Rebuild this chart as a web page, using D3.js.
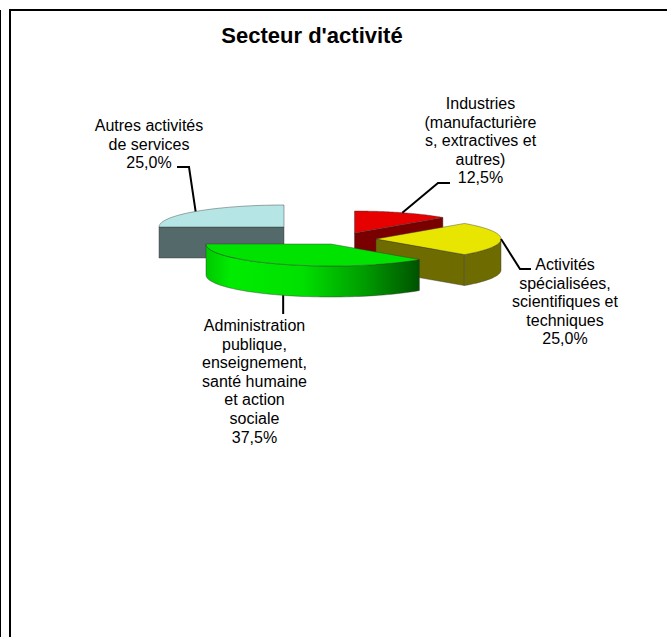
<!DOCTYPE html>
<html>
<head>
<meta charset="utf-8">
<style>
  html, body { margin: 0; padding: 0; background: #fff; }
  svg { display: block; }
  text { font-family: "Liberation Sans", Arial, sans-serif; fill: #000; }
</style>
</head>
<body>
<div class="chart"></div>
<script src="https://cdnjs.cloudflare.com/ajax/libs/d3/7.8.5/d3.min.js"></script>
<script>
// Data
var categories = ["Industries", "Activites", "Administration", "Autres"];
var values = [12.5, 25, 37.5, 25];
var labelLines = [
  ["Industries", "(manufacturière", "s, extractives et", "autres)"],
  ["Activités", "spécialisées,", "scientifiques et", "techniques"],
  ["Administration", "publique,", "enseignement,", "santé humaine", "et action", "sociale"],
  ["Autres activités", "de services"]
];

var svgWidth = 667;
var svgHeight = 637;
var title = "Secteur d'activité";
var formatValue = function(v) { return v.toFixed(1).replace(".", ",") + "%"; };

// Pie geometry
var rx = 125;
var ry = 22;
var depth = 31;

// Look of each slice, same order as the data. cut = which flat face shows
var slices = [
  { cx: 354.5, cy: 233, top: "#e60000", side: "#7a0000", cut: "endAngle" },
  { cx: 376, cy: 239, top: "#e8e600", side: "#6e6c00", cut: "endAngle" },
  { cx: 331, cy: 244, top: "#00e300", side: "url(#greenWall)", cut: null },
  { cx: 284, cy: 227, top: "#b6e5e5", side: "#546a6a", cut: "startAngle" }
];

// Where each label sits and how its leader line bends
var labelPos = [
  { x: 480.5, y: 109, elbow: [438, 183], end: [450, 183], edge: "top" },
  { x: 565, y: 270, elbow: [520, 269], end: [531, 269], edge: "top" },
  { x: 254.5, y: 331, elbow: null, end: [284, 314], edge: "bottom" },
  { x: 149, y: 131, elbow: [189, 167], end: [177, 167], edge: "top" }
];
var lineStep = 18.6;

var svg = d3.select(".chart")
  .append("svg")
  .attr("width", svgWidth)
  .attr("height", svgHeight);

var defs = svg.append("defs");
var greenGrad = defs.append("linearGradient").attr("id", "greenWall");
greenGrad.selectAll("stop")
  .data([[0, "#00c800"], [0.12, "#00ec00"], [0.45, "#00e000"], [0.75, "#009a00"], [1, "#005200"]])
  .enter().append("stop")
  .attr("offset", function(d) { return d[0]; })
  .attr("stop-color", function(d) { return d[1]; });

// Frame
svg.append("line").attr("x1", 0.5).attr("y1", 10).attr("x2", 0.5).attr("y2", svgHeight)
  .attr("stroke", "#000").attr("stroke-width", 1);
svg.append("line").attr("x1", 10).attr("y1", 9).attr("x2", 10).attr("y2", svgHeight)
  .attr("stroke", "#000").attr("stroke-width", 2);
svg.append("line").attr("x1", 9).attr("y1", 10).attr("x2", svgWidth).attr("y2", 10)
  .attr("stroke", "#000").attr("stroke-width", 2);

svg.append("text")
  .attr("x", 312)
  .attr("y", 43)
  .attr("text-anchor", "middle")
  .style("font-size", "22px")
  .style("font-weight", "bold")
  .text(title);

var pie = d3.pie().sort(null).startAngle(0).endAngle(2 * Math.PI);
var arcs = pie(values);

// Angle 0 is 12 o'clock, going clockwise, same as d3.pie
function px(s, a) { return s.cx + rx * Math.sin(a); }
function py(s, a) { return s.cy - ry * Math.cos(a); }

function arcPoints(s, a0, a1, dy) {
  return d3.range(0, 61).map(function(i) {
    var a = a0 + (a1 - a0) * i / 60;
    return [px(s, a), py(s, a) + dy];
  });
}

var line = d3.line();

function face(g, pts, fill) {
  g.append("path")
    .attr("d", line(pts) + "Z")
    .attr("fill", fill)
    .attr("stroke", "#333")
    .attr("stroke-opacity", 0.6)
    .attr("stroke-width", 0.7);
}

// Painting order: back slices first, the big front slice last
[3, 0, 1, 2].forEach(function(i) {
  var s = slices[i];
  var d = arcs[i];
  var g = svg.append("g").attr("class", "slice " + categories[i]);

  // Flat cut face looking towards the viewer
  if (s.cut) {
    var a = d[s.cut];
    var x = px(s, a);
    var y = py(s, a);
    face(g, [[s.cx, s.cy], [x, y], [x, y + depth], [s.cx, s.cy + depth]], s.side);
  }

  // Outer wall, only the part in front
  var w0 = Math.max(d.startAngle, Math.PI / 2);
  var w1 = Math.min(d.endAngle, 3 * Math.PI / 2);
  if (w1 > w0) {
    face(g, arcPoints(s, w0, w1, 0).concat(arcPoints(s, w1, w0, depth)), s.side);
  }

  // Top face
  face(g, [[s.cx, s.cy]].concat(arcPoints(s, d.startAngle, d.endAngle, 0)), s.top);
});

// Leader lines and labels
arcs.forEach(function(d, i) {
  var s = slices[i];
  var pos = labelPos[i];
  var mid = (d.startAngle + d.endAngle) / 2;
  var start = [px(s, mid), py(s, mid) + (pos.edge === "bottom" ? depth : 0)];
  var pts = pos.elbow ? [start, pos.elbow, pos.end] : [start, [start[0], pos.end[1]]];

  svg.append("path")
    .attr("d", line(pts))
    .attr("fill", "none")
    .attr("stroke", "#000")
    .attr("stroke-width", 2);

  var text = svg.append("text")
    .attr("text-anchor", "middle")
    .style("font-size", "16px");

  labelLines[i].concat([formatValue(values[i])]).forEach(function(t, k) {
    text.append("tspan")
      .attr("x", pos.x)
      .attr("y", pos.y + k * lineStep)
      .text(t);
  });
});
</script>
</body>
</html>
